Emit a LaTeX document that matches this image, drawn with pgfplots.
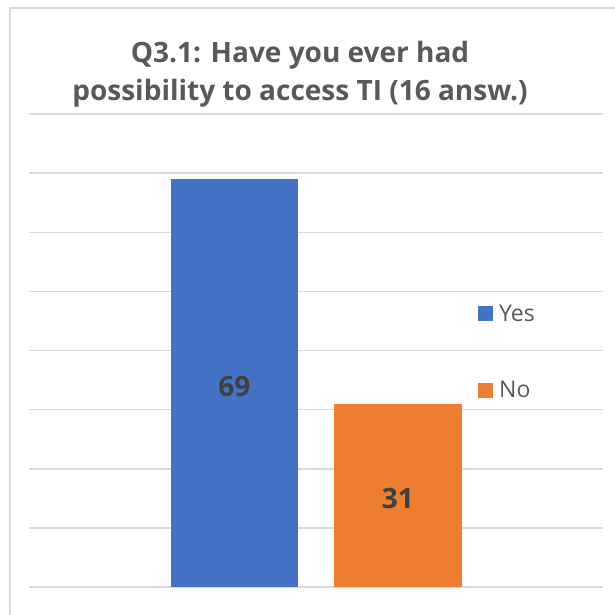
\documentclass[border=0pt]{standalone}
\usepackage{pgfplots}
\pgfplotsset{compat=1.18}
\usepackage{fontspec}
\setmainfont{Open Sans}
\definecolor{gridgray}{RGB}{217,217,217}
\definecolor{txtgray}{RGB}{89,89,89}
\definecolor{lblgray}{RGB}{64,64,64}
\definecolor{xblue}{RGB}{68,114,196}
\definecolor{xorange}{RGB}{237,125,49}
\begin{document}
\begin{tikzpicture}
\useasboundingbox (-29pt,-27pt) rectangle (586pt,587pt);
\fill[white] (-29pt,-27pt) rectangle (586pt,587pt);
\draw[gridgray, line width=1.5pt] (-19pt,-60pt) -- (-19pt,579pt) -- (640pt,579pt);
\node[anchor=base, font=\fontsize{28}{38}\selectfont\bfseries, text=txtgray] at (271pt,524pt) {Q3.1: Have you ever had};
\node[anchor=base, font=\fontsize{28}{38}\selectfont\bfseries, text=txtgray] at (271pt,486pt) {possibility to access TI (16 answ.)};
\begin{axis}[
  at={(0pt,0pt)}, anchor=south west,
  scale only axis, width=574pt, height=473pt,
  xmin=-287, xmax=287, ymin=0, ymax=80,
  ybar, bar width=127.5,
  axis line style={draw=none},
  xtick=\empty, ytick={0,10,...,80}, yticklabels={},
  major tick length=0pt,
  ymajorgrids, major grid style={color=gridgray, line width=1.5pt},
  clip=false,
  /pgf/number format/assume math mode=true,
  nodes near coords={\pgfmathprintnumber[assume math mode=true]{\pgfplotspointmeta}},
  visualization depends on=rawy\as\rawy,
  every node near coord/.append style={anchor=center, font=\fontsize{28}{32}\selectfont\bfseries, text=lblgray,
    shift={(axis direction cs:0,-\rawy/2-0.6)}},
  legend style={at={(rel axis cs:0.7822,0.5975)}, anchor=north west, draw=none, fill=none,
    inner sep=0pt, row sep=59pt, font=\fontsize{23}{28}\selectfont, text=txtgray,
    nodes={inner sep=0pt}},
  legend cell align=left,
  legend image code/.code={\fill[#1,draw=none] (0pt,-7.5pt) rectangle (15pt,7.5pt); \path (0pt,0pt) -- (21pt,0pt);},
]
\addplot[fill=xblue, draw=none, bar shift=-81.75] coordinates {(0,69)};
\addplot[fill=xorange, draw=none, bar shift=81.75] coordinates {(0,31)};
\legend{Yes, No}
\end{axis}
\end{tikzpicture}
\end{document}
